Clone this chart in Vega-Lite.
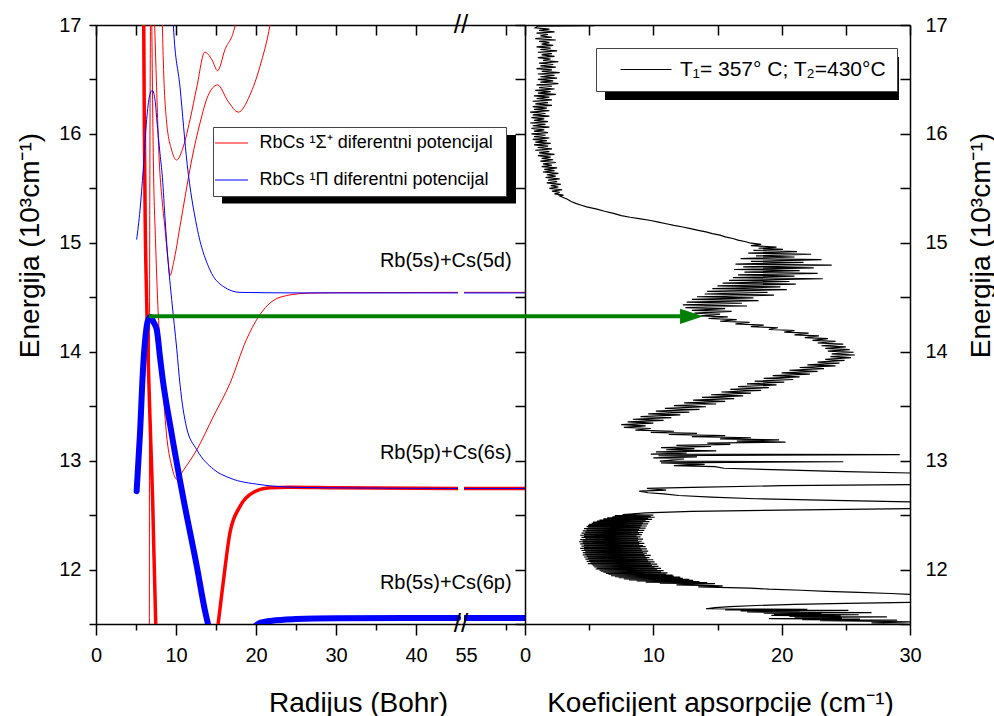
{
"$schema":"https://vega.github.io/schema/vega-lite/v6.json",
"padding":{"left":16,"top":12,"right":5,"bottom":5},
"background":"white",
"config":{"font":"Liberation Sans","view":{"stroke":null},
 "axis":{"grid":false,"domainColor":"black","domainWidth":1.5,"tickColor":"black","tickWidth":1.5,"labelColor":"black","labelFontSize":20,"labelFont":"Liberation Sans","titleFont":"Liberation Sans","titleFontSize":28,"titleFontWeight":"normal","titleColor":"black","labelFlush":false,"labelOverlap":false,"labelBound":false},
 "legend":{"labelFont":"Liberation Sans","labelColor":"black"}},
"datasets":{
"thickRed":[{"r":5.95,"e":17.2},{"r":6.05,"e":16.0},{"r":6.15,"e":15.2},{"r":6.33,"e":14.48},{"r":6.7,"e":13.5},{"r":7.08,"e":12.64},{"r":7.46,"e":11.52},{"r":7.7,"e":11.1},{"r":9,"e":10.5},{"r":11,"e":10.2},{"r":13,"e":10.5},{"r":14.4,"e":11.0},{"r":15.3,"e":11.52},{"r":15.9,"e":11.88},{"r":16.75,"e":12.34},{"r":18,"e":12.58},{"r":19.7,"e":12.71},{"r":21.75,"e":12.75},{"r":24.25,"e":12.755},{"r":30,"e":12.75},{"r":45.25,"e":12.745}],
"thinRed":[
{"c":"S","r":6.67,"e":11.3},{"c":"S","r":6.7,"e":14.5},{"c":"S","r":6.83,"e":17.2},
{"c":"R","r":6.95,"e":17.2},{"c":"R","r":7.17,"e":15.76},{"c":"R","r":7.45,"e":15.0},{"c":"R","r":7.7,"e":14.48},{"c":"R","r":8.2,"e":13.87},{"c":"R","r":8.8,"e":13.25},{"c":"R","r":9.46,"e":12.95},{"c":"R","r":10.08,"e":12.83},{"c":"R","r":11.0,"e":12.92},{"c":"R","r":12.6,"e":13.1},{"c":"R","r":14.7,"e":13.41},{"c":"R","r":16.75,"e":13.71},{"c":"R","r":18.8,"e":14.11},{"c":"R","r":20.3,"e":14.32},{"c":"R","r":21.5,"e":14.43},{"c":"R","r":23,"e":14.5},{"c":"R","r":26.3,"e":14.537},{"c":"R","r":30,"e":14.542},{"c":"R","r":45.25,"e":14.545},
{"c":"Q","r":7.25,"e":17.2},{"c":"Q","r":7.5,"e":16.6},{"c":"Q","r":7.9,"e":15.76},{"c":"Q","r":8.25,"e":15.4},{"c":"Q","r":8.6,"e":15.15},{"c":"Q","r":9.0,"e":14.84},{"c":"Q","r":9.25,"e":14.7},{"c":"Q","r":9.7,"e":14.82},{"c":"Q","r":10.5,"e":15.15},{"c":"Q","r":11.2,"e":15.45},{"c":"Q","r":11.96,"e":15.76},{"c":"Q","r":13.0,"e":16.1},{"c":"Q","r":14.0,"e":16.35},{"c":"Q","r":15.2,"e":16.45},{"c":"Q","r":16.5,"e":16.3},{"c":"Q","r":17.8,"e":16.2},{"c":"Q","r":19.2,"e":16.35},{"c":"Q","r":20.5,"e":16.62},{"c":"Q","r":21.75,"e":17.0},{"c":"Q","r":22.2,"e":17.2},
{"c":"P","r":8.25,"e":17.2},{"c":"P","r":8.3,"e":17.0},{"c":"P","r":8.45,"e":16.59},{"c":"P","r":8.8,"e":16.13},{"c":"P","r":9.46,"e":15.85},{"c":"P","r":10.08,"e":15.76},{"c":"P","r":10.9,"e":15.88},{"c":"P","r":11.75,"e":16.13},{"c":"P","r":12.6,"e":16.43},{"c":"P","r":13.6,"e":16.75},{"c":"P","r":14.5,"e":16.68},{"c":"P","r":15.2,"e":16.58},{"c":"P","r":16.1,"e":16.77},{"c":"P","r":17.4,"e":17.0},{"c":"P","r":17.6,"e":17.2}],
"thinBlue":[
{"c":"A","r":9.55,"e":17.2},{"c":"A","r":9.67,"e":17.0},{"c":"A","r":10.5,"e":16.43},{"c":"A","r":11.4,"e":15.72},{"c":"A","r":12.6,"e":15.15},{"c":"A","r":14.25,"e":14.75},{"c":"A","r":15.9,"e":14.6},{"c":"A","r":18,"e":14.545},{"c":"A","r":25,"e":14.54},{"c":"A","r":45.25,"e":14.54},
{"c":"B","r":5.08,"e":15.03},{"c":"B","r":5.5,"e":15.3},{"c":"B","r":5.9,"e":15.67},{"c":"B","r":6.33,"e":16.13},{"c":"B","r":6.7,"e":16.35},{"c":"B","r":7.04,"e":16.4},{"c":"B","r":7.4,"e":16.3},{"c":"B","r":7.6,"e":16.13},{"c":"B","r":8.0,"e":15.82},{"c":"B","r":8.3,"e":15.6},{"c":"B","r":8.65,"e":15.2},{"c":"B","r":9.0,"e":14.84},{"c":"B","r":9.46,"e":14.48},{"c":"B","r":10.1,"e":14.02},{"c":"B","r":10.5,"e":13.7},{"c":"B","r":11.3,"e":13.31},{"c":"B","r":12.6,"e":13.1},{"c":"B","r":14.7,"e":12.92},{"c":"B","r":16.75,"e":12.84},{"c":"B","r":20.5,"e":12.78},{"c":"B","r":25,"e":12.755},{"c":"B","r":30,"e":12.75},{"c":"B","r":45.25,"e":12.745}],
"thickBlue":[{"r":5.08,"e":12.72},{"r":5.5,"e":13.25},{"r":5.9,"e":13.87},{"r":6.2,"e":14.15},{"r":6.5,"e":14.29},{"r":6.83,"e":14.32},{"r":7.2,"e":14.27},{"r":7.6,"e":14.2},{"r":8.0,"e":13.95},{"r":8.3,"e":13.77},{"r":9.45,"e":13.25},{"r":10.9,"e":12.66},{"r":12.6,"e":12.03},{"r":13.6,"e":11.63},{"r":14.0,"e":11.5},{"r":14.6,"e":11.32},{"r":16,"e":11.2},{"r":18,"e":11.3},{"r":19.5,"e":11.45},{"r":20.5,"e":11.51},{"r":22,"e":11.53},{"r":25,"e":11.545},{"r":30,"e":11.553},{"r":45.25,"e":11.556}],
"spectrum":[
{"e":17.03,"c":1.2},{"e":17.0,"c":1.6},{"e":16.995,"c":5.4},{"e":16.99,"c":1.0},
{"e":16.975,"c":0.8},{"e":16.9625,"c":1.9},{"e":16.95,"c":1.1},{"e":16.9375,"c":2.3},{"e":16.925,"c":0.9},{"e":16.9125,"c":1.8},{"e":16.9,"c":1.2},{"e":16.8875,"c":2.1},{"e":16.875,"c":0.8},{"e":16.8625,"c":2.4},{"e":16.85,"c":1.1},{"e":16.8375,"c":1.9},{"e":16.825,"c":1.3},{"e":16.8125,"c":2.2},{"e":16.8,"c":0.9},{"e":16.7875,"c":2.0},{"e":16.775,"c":1.2},{"e":16.7625,"c":2.5},{"e":16.75,"c":1.0},{"e":16.7375,"c":2.1},{"e":16.725,"c":1.3},{"e":16.7125,"c":2.3},{"e":16.7,"c":1.0},{"e":16.6875,"c":2.0},{"e":16.675,"c":1.4},{"e":16.6625,"c":2.6},{"e":16.65,"c":1.1},{"e":16.6375,"c":2.2},{"e":16.625,"c":1.2},{"e":16.6125,"c":2.4},{"e":16.6,"c":0.9},{"e":16.5875,"c":2.1},{"e":16.575,"c":1.3},{"e":16.5625,"c":2.7},{"e":16.55,"c":1.0},{"e":16.5375,"c":2.3},{"e":16.525,"c":1.2},{"e":16.5125,"c":2.5},{"e":16.5,"c":1.0},{"e":16.4875,"c":2.2},{"e":16.475,"c":1.2},{"e":16.4625,"c":2.6},{"e":16.45,"c":0.9},{"e":16.4375,"c":2.1},{"e":16.425,"c":1.1},{"e":16.4125,"c":2.3},{"e":16.4,"c":0.8},{"e":16.3875,"c":2.0},{"e":16.375,"c":1.0},{"e":16.3625,"c":2.4},{"e":16.35,"c":0.7},{"e":16.3375,"c":1.9},{"e":16.325,"c":0.9},{"e":16.3125,"c":2.1},{"e":16.3,"c":0.6},{"e":16.2875,"c":1.8},{"e":16.275,"c":0.8},{"e":16.2625,"c":2.1},{"e":16.25,"c":0.6},{"e":16.2375,"c":1.7},{"e":16.225,"c":0.7},{"e":16.2125,"c":1.9},{"e":16.2,"c":0.4},{"e":16.1875,"c":1.6},{"e":16.175,"c":0.6},{"e":16.1625,"c":1.9},{"e":16.15,"c":0.5},{"e":16.1375,"c":1.5},{"e":16.125,"c":0.7},{"e":16.1125,"c":1.8},{"e":16.1,"c":0.4},{"e":16.0875,"c":1.6},{"e":16.075,"c":0.6},{"e":16.0625,"c":1.9},{"e":16.05,"c":0.5},{"e":16.0375,"c":1.5},{"e":16.025,"c":0.7},{"e":16.0125,"c":1.8},{"e":16.0,"c":0.5},{"e":15.9875,"c":1.6},{"e":15.975,"c":0.7},{"e":15.9625,"c":1.9},{"e":15.95,"c":0.6},{"e":15.9375,"c":1.7},{"e":15.925,"c":0.8},{"e":15.9125,"c":2.0},{"e":15.9,"c":0.7},{"e":15.8875,"c":1.8},{"e":15.875,"c":1.0},{"e":15.8625,"c":2.1},{"e":15.85,"c":0.8},{"e":15.8375,"c":1.9},{"e":15.825,"c":1.1},{"e":15.8125,"c":2.3},{"e":15.8,"c":1.0},{"e":15.7875,"c":2.0},{"e":15.775,"c":1.3},{"e":15.7625,"c":2.2},{"e":15.75,"c":1.2},{"e":15.7375,"c":2.4},{"e":15.725,"c":1.4},{"e":15.7125,"c":2.1},{"e":15.7,"c":1.3},{"e":15.6875,"c":2.5},{"e":15.675,"c":1.5},{"e":15.6625,"c":2.3},{"e":15.65,"c":1.4},{"e":15.6375,"c":2.6},{"e":15.625,"c":1.7},{"e":15.6125,"c":2.4},{"e":15.6,"c":1.6},{"e":15.5875,"c":2.7},{"e":15.575,"c":1.8},{"e":15.5625,"c":2.5},{"e":15.55,"c":1.7},{"e":15.5375,"c":2.8},{"e":15.525,"c":2.0},{"e":15.5125,"c":2.6},{"e":15.5,"c":1.9},{"e":15.4875,"c":2.9},{"e":15.475,"c":2.1},{"e":15.4625,"c":2.7},{"e":15.45,"c":2.3},{"e":15.4375,"c":3.0},{"e":15.43,"c":2.7},
{"e":15.4,"c":3.3},{"e":15.38,"c":3.6},{"e":15.36,"c":4.0},{"e":15.345,"c":4.4},{"e":15.33,"c":4.8},{"e":15.31,"c":5.6},{"e":15.29,"c":6.2},{"e":15.27,"c":6.9},{"e":15.25,"c":7.5},{"e":15.235,"c":8.2},{"e":15.22,"c":9.0},{"e":15.205,"c":9.8},{"e":15.19,"c":10.4},{"e":15.175,"c":11.0},{"e":15.16,"c":11.6},{"e":15.145,"c":12.3},{"e":15.13,"c":12.9},{"e":15.115,"c":13.5},{"e":15.1,"c":14.1},{"e":15.085,"c":14.6},{"e":15.07,"c":15.2},{"e":15.055,"c":15.6},{"e":15.04,"c":16.2},{"e":15.025,"c":16.6},{"e":15.01,"c":17.2},
{"e":15.0,"c":17.5},{"e":14.985,"c":18.4},{"e":14.975,"c":17.6},{"e":14.96,"c":19.6},{"e":14.95,"c":18.2},{"e":14.94,"c":20.1},{"e":14.93,"c":17.8},{"e":14.92,"c":21.2},{"e":14.905,"c":17.4},{"e":14.895,"c":22.3},{"e":14.88,"c":18.0},{"e":14.87,"c":21.0},{"e":14.855,"c":16.8},{"e":14.845,"c":23.1},{"e":14.83,"c":17.6},{"e":14.82,"c":21.7},{"e":14.805,"c":16.4},{"e":14.795,"c":23.9},{"e":14.78,"c":17.0},{"e":14.77,"c":22.5},{"e":14.755,"c":16.3},{"e":14.745,"c":21.4},{"e":14.73,"c":17.1},{"e":14.72,"c":22.8},{"e":14.705,"c":16.6},{"e":14.695,"c":21.0},{"e":14.68,"c":16.2},{"e":14.67,"c":23.2},{"e":14.655,"c":15.9},{"e":14.645,"c":20.6},{"e":14.63,"c":15.4},{"e":14.62,"c":21.1},{"e":14.605,"c":15.0},{"e":14.595,"c":19.9},{"e":14.58,"c":14.6},{"e":14.57,"c":20.4},{"e":14.555,"c":14.2},{"e":14.545,"c":18.9},{"e":14.53,"c":14.0},{"e":14.52,"c":19.4},{"e":14.505,"c":13.4},{"e":14.495,"c":17.8},{"e":14.48,"c":13.0},{"e":14.47,"c":18.2},{"e":14.455,"c":12.6},{"e":14.445,"c":16.9},{"e":14.43,"c":12.3},{"e":14.42,"c":17.3},{"e":14.405,"c":12.5},{"e":14.395,"c":15.6},{"e":14.38,"c":13.0},{"e":14.37,"c":16.1},{"e":14.355,"c":13.2},{"e":14.345,"c":15.2},{"e":14.33,"c":13.7},{"e":14.32,"c":15.8},{"e":14.305,"c":14.3},{"e":14.295,"c":16.5},{"e":14.28,"c":15.2},
{"e":14.27,"c":17.5},{"e":14.255,"c":16.4},{"e":14.245,"c":18.6},{"e":14.23,"c":17.6},{"e":14.22,"c":19.7},{"e":14.205,"c":19.0},{"e":14.195,"c":21.0},{"e":14.18,"c":20.2},{"e":14.17,"c":22.1},{"e":14.155,"c":21.0},{"e":14.145,"c":22.9},{"e":14.13,"c":21.8},{"e":14.12,"c":23.6},{"e":14.105,"c":22.4},{"e":14.095,"c":24.2},{"e":14.08,"c":22.8},{"e":14.07,"c":24.8},{"e":14.055,"c":23.1},{"e":14.045,"c":25.0},{"e":14.03,"c":23.4},{"e":14.02,"c":25.3},{"e":14.005,"c":23.6},{"e":13.995,"c":25.6},{"e":13.98,"c":23.9},{"e":13.97,"c":25.7},{"e":13.955,"c":23.8},{"e":13.945,"c":25.4},{"e":13.93,"c":23.4},{"e":13.92,"c":24.9},{"e":13.905,"c":22.8},{"e":13.895,"c":24.5},{"e":13.88,"c":22.0},{"e":13.87,"c":24.2},{"e":13.855,"c":21.4},{"e":13.845,"c":23.3},{"e":13.83,"c":20.6},{"e":13.82,"c":22.8},{"e":13.805,"c":20.0},{"e":13.795,"c":22.2},{"e":13.78,"c":19.3},{"e":13.77,"c":21.4},{"e":13.755,"c":18.6},{"e":13.745,"c":20.9},{"e":13.73,"c":17.9},{"e":13.72,"c":20.2},{"e":13.705,"c":17.3},{"e":13.695,"c":19.6},{"e":13.68,"c":16.6},{"e":13.67,"c":19.0},{"e":13.655,"c":16.0},{"e":13.645,"c":18.4},{"e":13.63,"c":15.3},{"e":13.62,"c":17.6},{"e":13.605,"c":14.5},{"e":13.595,"c":17.0},{"e":13.58,"c":13.8},{"e":13.57,"c":16.3},{"e":13.555,"c":13.1},{"e":13.545,"c":15.6},{"e":13.53,"c":12.4},{"e":13.52,"c":14.9},{"e":13.505,"c":11.6},{"e":13.495,"c":14.1},{"e":13.48,"c":10.9},{"e":13.47,"c":13.6},{"e":13.455,"c":10.2},{"e":13.445,"c":12.8},{"e":13.43,"c":9.6},{"e":13.42,"c":12.1},{"e":13.405,"c":9.0},{"e":13.395,"c":11.4},{"e":13.38,"c":8.4},{"e":13.37,"c":10.8},{"e":13.355,"c":8.0},{"e":13.345,"c":10.0},{"e":13.33,"c":7.5},{"e":13.32,"c":9.4},{"e":13.305,"c":7.7},{"e":13.295,"c":9.8},
{"e":13.28,"c":8.6},{"e":13.27,"c":11.6},{"e":13.26,"c":9.8},{"e":13.25,"c":13.4},{"e":13.24,"c":11.2},{"e":13.23,"c":15.6},{"e":13.22,"c":13.0},{"e":13.21,"c":17.6},{"e":13.2,"c":15.2},{"e":13.19,"c":19.8},{"e":13.18,"c":16.5},{"e":13.17,"c":20.3},{"e":13.16,"c":14.2},{"e":13.15,"c":16.0},{"e":13.14,"c":11.8},{"e":13.13,"c":14.5},{"e":13.12,"c":10.6},{"e":13.11,"c":13.2},{"e":13.1,"c":11.0},{"e":13.09,"c":14.9},{"e":13.08,"c":10.2},{"e":13.07,"c":12.6},{"e":13.06,"c":9.8},{"e":13.055,"c":29.2},{"e":13.045,"c":10.4},{"e":13.035,"c":13.4},{"e":13.025,"c":10.0},{"e":13.015,"c":12.4},{"e":12.995,"c":10.5},{"e":12.99,"c":24.8},{"e":12.98,"c":10.6},{"e":12.965,"c":14.0},{"e":12.955,"c":11.6},{"e":12.945,"c":14.8},{"e":12.93,"c":15.5},{"e":12.915,"c":20.0},{"e":12.9,"c":25.0},{"e":12.885,"c":30.5},
{"e":12.78,"c":31},{"e":12.77,"c":20},{"e":12.755,"c":13.0},{"e":12.745,"c":9.5},{"e":12.73,"c":11.0},{"e":12.72,"c":8.9},{"e":12.705,"c":9.6},{"e":12.695,"c":10.8},{"e":12.68,"c":12.0},{"e":12.665,"c":14.5},{"e":12.65,"c":18},{"e":12.635,"c":24},{"e":12.62,"c":30.5},{"e":12.56,"c":30.5},{"e":12.545,"c":20.0},{"e":12.535,"c":13.0},{"e":12.52,"c":9.4},{"e":12.51,"c":8.2},
{"e":12.505,"c":7.6},{"e":12.5,"c":10.0},{"e":12.495,"c":7.0},{"e":12.49,"c":9.8},{"e":12.485,"c":6.8},{"e":12.48,"c":10.1},{"e":12.475,"c":6.4},{"e":12.47,"c":9.6},{"e":12.465,"c":6.1},{"e":12.46,"c":9.9},{"e":12.455,"c":5.8},{"e":12.45,"c":9.4},{"e":12.445,"c":5.6},{"e":12.44,"c":9.7},{"e":12.435,"c":5.3},{"e":12.43,"c":9.2},{"e":12.425,"c":5.2},{"e":12.42,"c":9.6},{"e":12.415,"c":5.0},{"e":12.41,"c":9.1},{"e":12.405,"c":4.9},{"e":12.4,"c":9.5},{"e":12.395,"c":4.8},{"e":12.39,"c":9.0},{"e":12.385,"c":4.9},{"e":12.38,"c":9.4},{"e":12.375,"c":4.6},{"e":12.37,"c":8.9},{"e":12.365,"c":4.8},{"e":12.36,"c":9.3},{"e":12.355,"c":4.5},{"e":12.35,"c":8.8},{"e":12.345,"c":4.7},{"e":12.34,"c":9.2},{"e":12.335,"c":4.4},{"e":12.33,"c":8.9},{"e":12.325,"c":4.6},{"e":12.32,"c":9.1},{"e":12.315,"c":4.3},{"e":12.31,"c":8.7},{"e":12.305,"c":4.6},{"e":12.3,"c":9.0},{"e":12.295,"c":4.4},{"e":12.29,"c":8.8},{"e":12.285,"c":4.7},{"e":12.28,"c":9.2},{"e":12.275,"c":4.3},{"e":12.27,"c":8.8},{"e":12.265,"c":4.5},{"e":12.26,"c":9.1},{"e":12.255,"c":4.2},{"e":12.25,"c":8.9},{"e":12.245,"c":4.5},{"e":12.24,"c":9.3},{"e":12.235,"c":4.3},{"e":12.23,"c":8.9},{"e":12.225,"c":4.6},{"e":12.22,"c":9.2},{"e":12.215,"c":4.4},{"e":12.21,"c":9.4},{"e":12.205,"c":4.6},{"e":12.2,"c":9.0},{"e":12.195,"c":4.3},{"e":12.19,"c":9.5},{"e":12.185,"c":4.6},{"e":12.18,"c":9.1},{"e":12.175,"c":4.4},{"e":12.17,"c":9.6},{"e":12.165,"c":4.7},{"e":12.16,"c":9.2},{"e":12.155,"c":4.5},{"e":12.15,"c":9.5},{"e":12.145,"c":4.7},{"e":12.14,"c":9.3},{"e":12.135,"c":4.5},{"e":12.13,"c":9.8},{"e":12.125,"c":4.8},{"e":12.12,"c":9.4},{"e":12.115,"c":4.6},{"e":12.11,"c":9.7},{"e":12.105,"c":4.9},{"e":12.1,"c":9.5},{"e":12.095,"c":4.7},{"e":12.09,"c":10.0},{"e":12.085,"c":5.0},{"e":12.08,"c":9.6},{"e":12.075,"c":4.8},{"e":12.07,"c":10.1},{"e":12.065,"c":5.1},{"e":12.06,"c":9.8},{"e":12.055,"c":4.9},{"e":12.05,"c":10.3},{"e":12.045,"c":5.2},{"e":12.04,"c":9.9},{"e":12.035,"c":5.3},{"e":12.03,"c":10.4},{"e":12.025,"c":5.4},{"e":12.02,"c":10.1},{"e":12.015,"c":5.6},{"e":12.01,"c":10.6},{"e":12.005,"c":5.5},{"e":12.0,"c":10.3},{"e":11.995,"c":5.8},{"e":11.99,"c":10.8},{"e":11.985,"c":5.9},{"e":11.98,"c":10.6},{"e":11.975,"c":6.1},{"e":11.97,"c":11.1},{"e":11.965,"c":6.3},{"e":11.96,"c":11.0},{"e":11.955,"c":6.5},{"e":11.95,"c":11.5},{"e":11.945,"c":6.7},{"e":11.94,"c":11.6},{"e":11.935,"c":7.0},{"e":11.93,"c":12.1},{"e":11.925,"c":7.3},{"e":11.92,"c":12.3},{"e":11.915,"c":7.7},{"e":11.91,"c":12.8},{"e":11.905,"c":8.1},{"e":11.9,"c":13.1},{"e":11.895,"c":8.7},{"e":11.89,"c":13.6},{"e":11.885,"c":9.4},{"e":11.88,"c":14.2},{"e":11.875,"c":10.5},{"e":11.87,"c":14.8},{"e":11.86,"c":11.8},{"e":11.85,"c":15.4},{"e":11.84,"c":13.5},{"e":11.83,"c":17.5},{"e":11.82,"c":19.0},{"e":11.81,"c":21.5},{"e":11.8,"c":23.5},{"e":11.79,"c":26.0},{"e":11.78,"c":28.5},{"e":11.77,"c":30.5},
{"e":11.7,"c":30.5},{"e":11.69,"c":25.0},{"e":11.68,"c":21.0},{"e":11.67,"c":18.0},{"e":11.66,"c":16.0},{"e":11.65,"c":14.8},{"e":11.64,"c":14.1},{"e":11.635,"c":22.0},{"e":11.63,"c":15.6},{"e":11.625,"c":25.2},{"e":11.62,"c":16.8},{"e":11.615,"c":21.4},{"e":11.61,"c":17.3},{"e":11.605,"c":27.0},{"e":11.6,"c":18.6},{"e":11.595,"c":23.1},{"e":11.59,"c":19.4},{"e":11.585,"c":26.0},{"e":11.58,"c":19.2},{"e":11.575,"c":24.6},{"e":11.57,"c":20.6},{"e":11.565,"c":28.2},{"e":11.56,"c":21.0},{"e":11.555,"c":24.7},{"e":11.55,"c":19.0},{"e":11.545,"c":26.1},{"e":11.54,"c":21.6},{"e":11.535,"c":29.0},{"e":11.53,"c":23.0},{"e":11.52,"c":30.5},{"e":11.51,"c":27.0},{"e":11.49,"c":31}]
},
"spacing":0,
"bounds":"flush",
"resolve":{"scale":{"color":"independent"},"legend":{"color":"independent"}},
"hconcat":[
{"width":365,"height":599,
 "resolve":{"axis":{"x":"independent","y":"independent"}},
 "layer":[
  {"data":{"name":"thickRed"},"mark":{"type":"line","clip":true,"strokeWidth":3.5,"interpolate":"monotone"},
   "encoding":{
    "x":{"field":"r","type":"quantitative","scale":{"domain":[0,45.625],"nice":false,"zero":false},
      "axis":{"orient":"bottom","values":[0,5,10,15,20,25,30,35,40],"labelExpr":"datum.value % 10 === 0 ? datum.label : ''","tickSize":{"condition":{"test":"datum.value % 10 === 0","value":11},"value":6},"labelPadding":10,"title":"Radijus (Bohr)","titleX":262,"titleY":87,"titleAlign":"center","titleBaseline":"alphabetic"}},
    "y":{"field":"e","type":"quantitative","scale":{"domain":[11.5,17],"nice":false,"zero":false},
      "axis":{"orient":"left","values":[11.5,12,12.5,13,13.5,14,14.5,15,15.5,16,16.5,17],"labelExpr":"datum.value % 1 === 0 ? format(datum.value, 'd') : ''","tickSize":7,"labelPadding":8,"title":"Energija (10³cm⁻¹)","titleX":-66,"titleY":220,"titleAngle":270,"titleAlign":"center","titleBaseline":"middle"}},
    "color":{"datum":"RbCs  ¹Σ⁺ diferentni potencijal","type":"nominal",
      "scale":{"domain":["RbCs  ¹Σ⁺ diferentni potencijal","RbCs  ¹Π  diferentni potencijal"],"range":["#ff0000","#0000ff"]},
      "legend":{"orient":"none","legendX":117,"legendY":102,"title":null,"symbolType":"M-2,0H2","symbolSize":272,"symbolStrokeWidth":1,"symbolOffset":2.5,"labelOffset":19,"labelFontSize":18,"labelLimit":400,"padding":7,"rowPadding":19,"fillColor":"white","strokeColor":"#444444"}}
   }},
  {"data":{"name":"thinRed"},"mark":{"type":"line","clip":true,"strokeWidth":1,"interpolate":"monotone"},
   "encoding":{"x":{"field":"r","type":"quantitative","axis":null},"y":{"field":"e","type":"quantitative","axis":null},"detail":{"field":"c"},"color":{"datum":"RbCs  ¹Σ⁺ diferentni potencijal","type":"nominal"}}},
  {"data":{"name":"thinBlue"},"mark":{"type":"line","clip":true,"strokeWidth":1,"interpolate":"monotone"},
   "encoding":{"x":{"field":"r","type":"quantitative","axis":null},"y":{"field":"e","type":"quantitative","axis":null},"detail":{"field":"c"},"color":{"datum":"RbCs  ¹Π  diferentni potencijal","type":"nominal"}}},
  {"data":{"name":"thickBlue"},"mark":{"type":"line","clip":true,"strokeWidth":6,"strokeCap":"round","interpolate":"monotone"},
   "encoding":{"x":{"field":"r","type":"quantitative","axis":null},"y":{"field":"e","type":"quantitative","axis":null},"color":{"datum":"RbCs  ¹Π  diferentni potencijal","type":"nominal"}}},
  {"data":{"values":[{"a":6.6,"b":46,"e":14.325}]},"mark":{"type":"rule","clip":true,"color":"#008000","strokeWidth":4},
   "encoding":{"x":{"field":"a","type":"quantitative","axis":{"orient":"top","values":[0,5,10,15,20,25,30,35,40],"labels":false,"tickSize":-10,"title":null}},"x2":{"field":"b"},"y":{"field":"e","type":"quantitative","axis":null}}},
  {"data":{"values":[{}]},"mark":{"type":"rect","color":"black"},
   "encoding":{"x":{"datum":15.75,"type":"quantitative","axis":null},"x2":{"datum":52.5},"y":{"datum":15.99,"type":"quantitative","axis":null},"y2":{"datum":15.36}}}
 ]},
{"width":64,"height":599,
 "resolve":{"axis":{"x":"independent","y":"independent"}},
 "layer":[
  {"data":{"values":[{"r":54.75,"e":12.745},{"r":63,"e":12.745}]},"mark":{"type":"line","clip":true,"strokeWidth":3.5,"color":"#ff0000"},
   "encoding":{
    "x":{"field":"r","type":"quantitative","scale":{"domain":[54.375,62.375],"nice":false,"zero":false},
      "axis":{"orient":"bottom","values":[55,60],"labelExpr":"datum.value === 55 ? '55' : ''","tickSize":{"condition":{"test":"datum.value === 55","value":11},"value":6},"tickOpacity":{"condition":{"test":"datum.value === 55","value":0},"value":1},"labelPadding":10,"title":null}},
    "y":{"field":"e","type":"quantitative","scale":{"domain":[11.5,17],"nice":false,"zero":false},
      "axis":{"orient":"right","values":[11.5,12,12.5,13,13.5,14,14.5,15,15.5,16,16.5,17],"labels":false,"tickSize":-10,"title":null}}}},
  {"data":{"values":[{"r":54.75,"e":14.545},{"r":63,"e":14.545}]},"mark":{"type":"line","clip":true,"strokeWidth":1,"color":"#ff0000"},
   "encoding":{"x":{"field":"r","type":"quantitative","axis":null},"y":{"field":"e","type":"quantitative","axis":null}}},
  {"data":{"values":[{"c":"A","r":54.75,"e":14.54},{"c":"A","r":63,"e":14.54},{"c":"B","r":54.75,"e":12.745},{"c":"B","r":63,"e":12.745}]},"mark":{"type":"line","clip":true,"strokeWidth":1,"color":"#0000ff"},
   "encoding":{"x":{"field":"r","type":"quantitative","axis":null},"y":{"field":"e","type":"quantitative","axis":null},"detail":{"field":"c"}}},
  {"data":{"values":[{"r":54.75,"e":11.556},{"r":63,"e":11.556}]},"mark":{"type":"line","clip":true,"strokeWidth":6,"color":"#0000ff"},
   "encoding":{"x":{"field":"r","type":"quantitative","axis":null},"y":{"field":"e","type":"quantitative","axis":null}}},
  {"data":{"values":[{"a":50,"b":63,"e":14.325}]},"mark":{"type":"rule","clip":true,"color":"#008000","strokeWidth":4},
   "encoding":{"x":{"field":"a","type":"quantitative","axis":{"orient":"top","values":[60],"labels":false,"tickSize":-10,"title":null}},"x2":{"field":"b"},"y":{"field":"e","type":"quantitative","axis":null}}},
  {"data":{"values":[{"t":"Rb(5s)+Cs(5d)","e":14.83},{"t":"Rb(5p)+Cs(6s)","e":13.07},{"t":"Rb(5s)+Cs(6p)","e":11.88}]},"mark":{"type":"text","align":"right","baseline":"middle","fontSize":20,"color":"black"},
   "encoding":{"x":{"datum":60.7,"type":"quantitative","axis":null},"y":{"field":"e","type":"quantitative","axis":null},"text":{"field":"t"}}},
  {"data":{"values":[{"e":17},{"e":11.5}]},"mark":{"type":"text","text":"//","fontSize":26,"align":"center","baseline":"middle","color":"black"},
   "encoding":{"x":{"datum":54.375,"type":"quantitative","axis":null},"y":{"field":"e","type":"quantitative","axis":null}}}
 ]},
{"width":385,"height":599,
 "resolve":{"axis":{"x":"independent","y":"independent"}},
 "layer":[
  {"data":{"name":"spectrum"},"mark":{"type":"line","clip":true,"strokeWidth":1.2},
   "encoding":{
    "x":{"field":"c","type":"quantitative","scale":{"domain":[0,30],"nice":false,"zero":false},
      "axis":{"orient":"bottom","values":[0,5,10,15,20,25,30],"labelExpr":"datum.value % 10 === 0 ? datum.label : ''","tickSize":{"condition":{"test":"datum.value % 10 === 0","value":11},"value":6},"labelPadding":10,"title":"Koeficijent apsorpcije (cm⁻¹)","titleX":195,"titleY":87,"titleAlign":"center","titleBaseline":"alphabetic"}},
    "y":{"field":"e","type":"quantitative","scale":{"domain":[11.5,17],"nice":false,"zero":false},
      "axis":{"orient":"right","values":[11.5,12,12.5,13,13.5,14,14.5,15,15.5,16,16.5,17],"labelExpr":"datum.value % 1 === 0 ? format(datum.value, 'd') : ''","tickSize":-10,"labelPadding":25,"title":"Energija (10³cm⁻¹)","titleX":71,"titleY":220,"titleAngle":270,"titleAlign":"center","titleBaseline":"middle"}},
    "order":{"field":"e","sort":"descending"},
    "color":{"datum":"T₁= 357° C; T₂=430°C","type":"nominal","scale":{"range":["black"]},
      "legend":{"orient":"none","legendX":71,"legendY":23,"title":null,"symbolType":"M-3,0H3","symbolSize":289,"symbolStrokeWidth":1,"symbolOffset":28.5,"labelOffset":23.5,"labelFontSize":21,"labelLimit":400,"padding":11,"fillColor":"white","strokeColor":"#444444"}}
   }},
  {"data":{"values":[{}]},"mark":{"type":"rect","color":"black"},
   "encoding":{"x":{"datum":6.23,"type":"quantitative","axis":null},"x2":{"datum":29.14},"y":{"datum":16.706,"type":"quantitative","axis":null},"y2":{"datum":16.312}}},
  {"data":{"values":[{"a":0,"b":12.1,"e":14.325}]},"mark":{"type":"rule","clip":true,"color":"#008000","strokeWidth":4},
   "encoding":{"x":{"field":"a","type":"quantitative","axis":{"orient":"top","values":[0,5,10,15,20,25,30],"labels":false,"tickSize":-10,"title":null}},"x2":{"field":"b"},"y":{"field":"e","type":"quantitative","axis":null}}},
  {"data":{"values":[{"c":12.99,"e":14.325}]},"mark":{"type":"point","shape":"M-1,-0.65L1,0L-1,0.65Z","filled":true,"size":543,"color":"#008000","opacity":1},
   "encoding":{"x":{"field":"c","type":"quantitative","axis":null},"y":{"field":"e","type":"quantitative","axis":null}}}
 ]}
]
}
